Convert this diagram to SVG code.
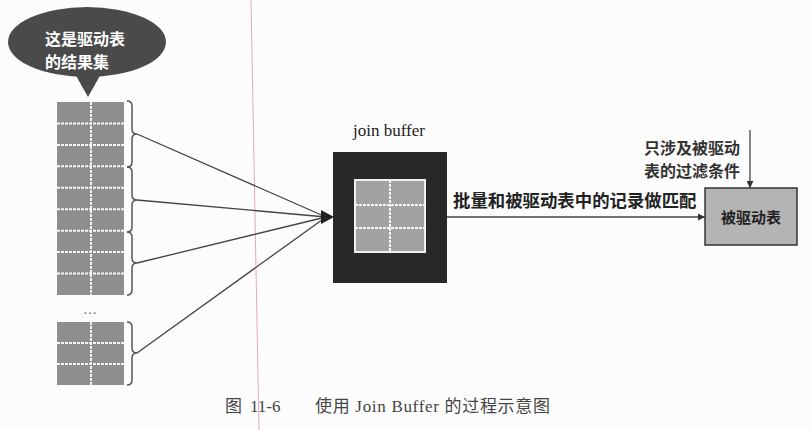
<svg xmlns="http://www.w3.org/2000/svg" width="811" height="430" viewBox="0 0 811 430">
<defs>
<style>
.cjk{font-family:"Noto Sans CJK SC","Noto Sans",sans-serif;}
.serif{font-family:"Liberation Serif","Noto Sans CJK SC",serif;}
.cell{fill:#8e8e8e;}
.grid{stroke:#f4f4f4;stroke-width:2;stroke-dasharray:3 1;fill:none;}
.brace{fill:none;stroke:#555;stroke-width:1.5;}
.conn{stroke:#444;stroke-width:1.3;fill:none;}
</style>
<marker id="ah" viewBox="0 0 10 10" refX="10" refY="5" markerWidth="7" markerHeight="7" markerUnits="userSpaceOnUse" orient="auto">
<path d="M0,0 L10,5 L0,10 z" fill="#333"/>
</marker>
</defs>
<rect width="811" height="430" fill="#fcfcfc"/>
<line x1="251" y1="0" x2="259" y2="430" stroke="#e2a8c6" stroke-width="1"/>

<g id="bubble">
<ellipse cx="87" cy="42" rx="79" ry="35" fill="#4a4a4a"/>
<path d="M74,72 L88,97 L102,72 z" fill="#4a4a4a"/>
<text class="cjk" x="45" y="44.5" font-size="16" font-weight="bold" fill="#fff">这是驱动表</text>
<text class="cjk" x="45" y="68" font-size="16" font-weight="bold" fill="#fff">的结果集</text>
</g>

<g id="result-block-1">
<rect class="cell" x="57" y="102" width="67" height="193"/>
<path class="grid" d="M57,123.4H124M57,144.9H124M57,166.3H124M57,187.8H124M57,209.2H124M57,230.7H124M57,252.1H124M57,273.6H124M91,102V295"/>
</g>
<text class="serif" x="90" y="314" font-size="14" fill="#666" text-anchor="middle">…</text>
<g id="result-block-2">
<rect class="cell" x="57" y="322" width="67" height="63"/>
<path class="grid" d="M57,343H124M57,364H124M91,322V385"/>
</g>

<g id="braces">
<path class="brace" d="M127,101 Q132,101 132,106 L132,129 Q132,134 137,134 Q132,134 132,139 L132,162 Q132,167 127,167"/>
<path class="brace" d="M127,167 Q132,167 132,172 L132,195 Q132,200 137,200 Q132,200 132,205 L132,227 Q132,232 127,232"/>
<path class="brace" d="M127,232 Q132,232 132,237 L132,258 Q132,263 137,263 Q132,263 132,268 L132,290 Q132,295 127,295"/>
<path class="brace" d="M127,322 Q132,322 132,327 L132,348 Q132,353 137,353 Q132,353 132,358 L132,380 Q132,385 127,385"/>
</g>

<g id="join-buffer">
<text class="serif" x="389" y="136" font-size="17" fill="#222" text-anchor="middle">join buffer</text>
<rect x="333" y="152" width="114" height="131" fill="#282828"/>
<rect x="355" y="180" width="70" height="72" fill="#a2a2a2" stroke="#f0f0f0" stroke-width="2"/>
<path class="grid" d="M355,205H425M355,228H425M390,180V252"/>
</g>

<g id="driven-table">
<rect x="705" y="188" width="92" height="57" fill="#b4b4b4" stroke="#333" stroke-width="1.5"/>
<text class="cjk" x="751" y="223" font-size="15" font-weight="bold" fill="#222" text-anchor="middle">被驱动表</text>
</g>

<g id="connectors">
<line class="conn" x1="137" y1="134" x2="326" y2="217"/>
<line class="conn" x1="137" y1="200" x2="326" y2="217"/>
<line class="conn" x1="137" y1="263" x2="326" y2="217"/>
<line class="conn" x1="137" y1="353" x2="326" y2="217"/>
<path d="M321,210 L334,217 L321,224 z" fill="#222"/>
<line class="conn" x1="447" y1="217" x2="705" y2="217" marker-end="url(#ah)"/>
<line class="conn" x1="750" y1="130" x2="750" y2="188" marker-end="url(#ah)"/>
</g>

<g id="labels">
<text class="cjk" x="453" y="207" font-size="17.4" font-weight="bold" fill="#222">批量和被驱动表中的记录做匹配</text>
<text class="cjk" x="740" y="153.5" font-size="16" font-weight="bold" fill="#333" text-anchor="end">只涉及被驱动</text>
<text class="cjk" x="740" y="177" font-size="16" font-weight="bold" fill="#333" text-anchor="end">表的过滤条件</text>
</g>

<g id="caption" fill="#444" font-size="17">
<text class="serif" x="225" y="412">图</text>
<text class="serif" x="250" y="412">11-6</text>
<text class="serif" x="315" y="412" textLength="235" lengthAdjust="spacing">使用 Join Buffer 的过程示意图</text>
</g>
</svg>
